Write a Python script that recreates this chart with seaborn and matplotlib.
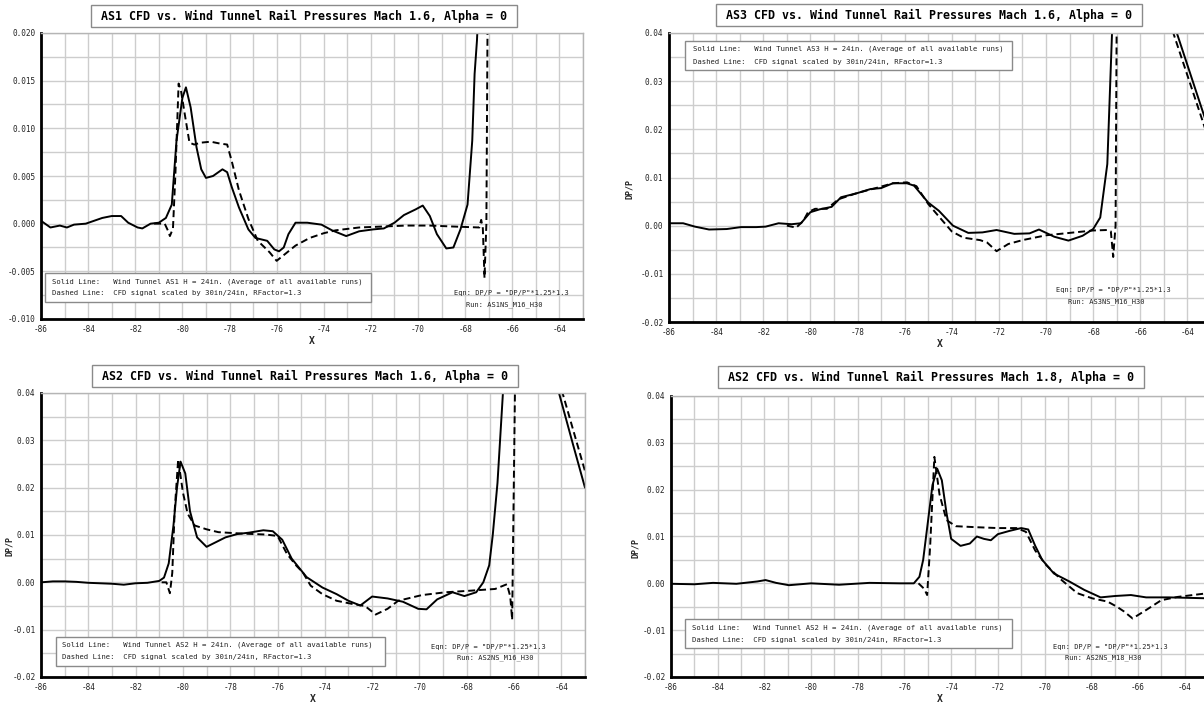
import matplotlib
matplotlib.use("Agg")
import matplotlib.pyplot as plt
from matplotlib.patches import Rectangle
from matplotlib.ticker import MultipleLocator, FormatStrFormatter
import seaborn as sns
import pandas as pd

sns.set_style("white")
plt.rcParams['font.family'] = ['DejaVu Sans Mono', 'DejaVu Sans']

W, H = 1204, 702

# ---------------- data ----------------
# Panel 1: AS1 Mach 1.6
as1_wt_x = [-86, -85.6, -85.2, -84.9, -84.6, -84.1, -83.75, -83.4, -83.0, -82.6, -82.3, -81.9, -81.7,
            -81.35, -81.0, -80.7, -80.45, -80.25, -80.0, -79.85, -79.65, -79.4, -79.2, -79.0, -78.7,
            -78.3, -78.1, -77.9, -77.6, -77.2, -76.9, -76.4, -76.1, -75.9, -75.7, -75.5, -75.2, -74.7,
            -74.1, -73.65, -73.05, -72.5, -71.9, -71.45, -71.0, -70.6, -70.1, -69.8, -69.5, -69.2,
            -68.8, -68.5, -68.2, -67.9, -67.7, -67.6, -67.5, -67.3, -66.0, -63.0]
as1_wt_y = [0.0003, -0.0004, -0.0002, -0.0004, -0.0001, 0.0, 0.0003, 0.0006, 0.0008, 0.0008, 0.0001,
            -0.0004, -0.0005, 0.0, 0.0001, 0.0006, 0.002, 0.0087, 0.0132, 0.0143, 0.0122, 0.008, 0.0057,
            0.0048, 0.005, 0.0057, 0.0054, 0.0038, 0.0017, -0.0006, -0.0015, -0.0018, -0.0027, -0.0029,
            -0.0025, -0.0011, 0.0001, 0.0001, -0.0001, -0.0007, -0.0013, -0.0008, -0.0006, -0.0005,
            0.0001, 0.0009, 0.0015, 0.0019, 0.0008, -0.0011, -0.0026, -0.0025, -0.0006, 0.002, 0.0087,
            0.0157, 0.0192, 0.03, 0.06, 0.05]
as1_cfd_x = [-81.2, -80.75, -80.6, -80.53, -80.4, -80.3, -80.16, -80.05, -79.9, -79.7, -79.5, -79.2,
             -78.8, -78.4, -78.1, -77.9, -77.6, -77.2, -76.8, -76.3, -76.0, -75.6, -75.2, -74.6, -74.0,
             -73.5, -72.5, -71.5, -70.5, -69.5, -68.5, -67.4, -67.32, -67.25, -67.18, -67.1, -67.03,
             -66.9, -63.0]
as1_cfd_y = [0.0, 0.0, -0.0008, -0.0013, -0.0005, 0.005, 0.0147, 0.0138, 0.0115, 0.0085, 0.0083, 0.0085,
             0.0086, 0.0084, 0.0083, 0.0065, 0.0035, 0.0005, -0.0018, -0.0030, -0.0039, -0.0031, -0.0023,
             -0.0015, -0.0010, -0.0007, -0.0004, -0.0003, -0.0002, -0.0002, -0.0003, -0.0004, 0.0004,
             -0.0005, -0.0057, 0.0, 0.03, 0.06, 0.06]

# Panel 2: AS3 Mach 1.6
as3_wt_x = [-86, -85.4, -84.9, -84.3, -83.55, -82.95, -82.3, -81.9, -81.35, -80.8, -80.4, -80.0, -79.6,
            -79.1, -78.7, -78.05, -77.45, -77.0, -76.5, -75.9, -75.6, -75.0, -74.55, -73.95, -73.3,
            -72.7, -72.1, -71.35, -70.7, -70.3, -69.65, -69.05, -68.45, -68.0, -67.7, -67.4, -67.2,
            -67.0, -66.0, -64.45, -63.0]
as3_wt_y = [0.0005, 0.0005, -0.0002, -0.0008, -0.0007, -0.0003, -0.0003, -0.0002, 0.0005, 0.0003, 0.0005,
            0.0028, 0.0034, 0.0039, 0.0059, 0.0067, 0.0076, 0.0078, 0.0088, 0.0088, 0.0083, 0.0048,
            0.0031, 0.0, -0.0015, -0.0014, -0.0009, -0.0017, -0.0016, -0.0008, -0.0023, -0.0031,
            -0.0021, -0.0007, 0.0017, 0.0128, 0.04, 0.06, 0.08, 0.04, 0.0185]
as3_cfd_x = [-81.0, -80.6, -80.3, -80.1, -79.8, -79.3, -78.8, -78.0, -77.3, -76.5, -75.9, -75.5, -75.0,
             -74.6, -74.0, -73.5, -72.8, -72.5, -72.1, -71.6, -71.0, -70.0, -69.0, -68.0, -67.4, -67.25,
             -67.15, -67.05, -67.0, -66.0, -64.6, -63.0]
as3_cfd_y = [0.0, -0.0004, 0.001, 0.0028, 0.0035, 0.0035, 0.0055, 0.0068, 0.0077, 0.0088, 0.009, 0.0082,
             0.0045, 0.0022, -0.0012, -0.0025, -0.003, -0.0035, -0.0053, -0.0038, -0.003, -0.002,
             -0.0015, -0.001, -0.0009, -0.0012, -0.0065, 0.0, 0.045, 0.07, 0.04, 0.0165]

# Panel 3: AS2 Mach 1.6
as2a_wt_x = [-86, -85.5, -85.0, -84.5, -84.0, -83.5, -83.0, -82.5, -82.0, -81.5, -81.0, -80.8, -80.6,
             -80.4, -80.25, -80.1, -79.9, -79.7, -79.4, -79.0, -78.6, -78.2, -77.7, -77.2, -76.6, -76.2,
             -75.8, -75.4, -74.77, -74.1, -73.5, -73.0, -72.5, -72.0, -71.35, -70.7, -70.05, -69.7,
             -69.25, -68.6, -68.1, -67.6, -67.3, -67.05, -66.9, -66.7, -66.47, -66.3, -65.0, -64.1,
             -63.5, -63.0]
as2a_wt_y = [0.0, 0.0002, 0.0002, 0.0001, -0.0001, -0.0002, -0.0003, -0.0005, -0.0002, -0.0001, 0.0003,
             0.001, 0.004, 0.012, 0.02, 0.0255, 0.023, 0.015, 0.0095, 0.0075, 0.0085, 0.0095, 0.0102,
             0.0105, 0.011, 0.0108, 0.009, 0.005, 0.0011, -0.0011, -0.0025, -0.0039, -0.0049, -0.003,
             -0.0034, -0.0041, -0.0056, -0.0057, -0.0036, -0.0021, -0.0029, -0.0021, 0.0, 0.0036, 0.01,
             0.021, 0.04, 0.06, 0.07, 0.04, 0.029, 0.02]
as2a_cfd_x = [-80.9, -80.7, -80.55, -80.45, -80.35, -80.2, -80.0, -79.8, -79.5, -79.0, -78.5, -77.5,
              -76.5, -76.0, -75.6, -75.2, -74.93, -74.6, -74.1, -73.5, -72.8, -72.3, -71.85, -71.35,
              -70.9, -69.9, -68.9, -67.95, -66.8, -66.3, -66.16, -66.08, -65.95, -65.0, -63.95, -63.0]
as2a_cfd_y = [0.0, 0.0, -0.0023, 0.002, 0.015, 0.026, 0.019, 0.0145, 0.012, 0.0112, 0.0106, 0.0103,
              0.0101, 0.0098, 0.006, 0.0035, 0.0021, -0.0007, -0.0025, -0.0039, -0.0046, -0.005,
              -0.0068, -0.0056, -0.0039, -0.0027, -0.0021, -0.0018, -0.0014, -0.0004, -0.003, -0.0079,
              0.045, 0.07, 0.04, 0.0235]

# Panel 4: AS2 Mach 1.8
as2b_wt_x = [-86, -85, -84.2, -83.2, -82.3, -81.95, -81.5, -80.95, -80, -78.8, -77.5, -76.2, -75.6,
             -75.36, -75.2, -75.0, -74.8, -74.6, -74.4, -74.2, -74.0, -73.6, -73.2, -72.9, -72.6,
             -72.3, -72.0, -71.5, -71.0, -70.7, -70.4, -70.1, -69.6, -68.94, -68.3, -67.6, -66.97,
             -66.3, -65.65, -64.67, -63.0]
as2b_wt_y = [-0.0001, -0.0002, 0.0001, -0.0001, 0.0004, 0.0007, 0.0001, -0.0004, 0.0, -0.0003, 0.0001,
             0.0, 0.0, 0.0014, 0.005, 0.013, 0.021, 0.0245, 0.022, 0.015, 0.0095, 0.008, 0.0085, 0.01,
             0.0095, 0.0092, 0.0105, 0.0112, 0.0118, 0.0115, 0.008, 0.005, 0.0021, 0.0004, -0.0014,
             -0.003, -0.0027, -0.0025, -0.003, -0.003, -0.0032]
as2b_cfd_x = [-75.4, -75.15, -75.03, -74.9, -74.72, -74.5, -74.2, -73.8, -73.0, -72.0, -71.2, -70.8,
              -70.4, -69.93, -69.27, -68.6, -67.96, -67.3, -66.9, -66.6, -66.23, -65.65, -65.0, -64.3,
              -63.0]
as2b_cfd_y = [0.0, -0.0012, -0.0025, 0.008, 0.027, 0.019, 0.0135, 0.0122, 0.012, 0.0118, 0.0118, 0.011,
              0.007, 0.0039, 0.0007, -0.0021, -0.0032, -0.0039, -0.005, -0.006, -0.0075, -0.0057,
              -0.0036, -0.0029, -0.0021]

titles = ["AS1 CFD vs. Wind Tunnel Rail Pressures Mach 1.6, Alpha = 0",
          "AS3 CFD vs. Wind Tunnel Rail Pressures Mach 1.6, Alpha = 0",
          "AS2 CFD vs. Wind Tunnel Rail Pressures Mach 1.6, Alpha = 0",
          "AS2 CFD vs. Wind Tunnel Rail Pressures Mach 1.8, Alpha = 0"]
sensors = ["AS1", "AS3", "AS2", "AS2"]
runs = ["AS1NS_M16_H30", "AS3NS_M16_H30", "AS2NS_M16_H30", "AS2NS_M18_H30"]
x_ticks = [-86, -84, -82, -80, -78, -76, -74, -72, -70, -68, -66, -64]
eqn_text = 'Eqn: DP/P = "DP/P"*1.25*1.3'

# ---------------- layout (pixels) ----------------
panels = [
    dict(wx=as1_wt_x, wy=as1_wt_y, cx=as1_cfd_x, cy=as1_cfd_y, box=(41, 583, 33, 319),
         ylim=(-0.010, 0.020), ystep=0.005, fmt='%.3f', ylab=None,
         title_c=(304, 16), leg=(0.007, 0.609, 0.059, 0.161), legtxt=(0.02, 0.129, 0.091),
         eqn=(0.867, 0.091), run=(0.854, 0.049)),
    dict(wx=as3_wt_x, wy=as3_wt_y, cx=as3_cfd_x, cy=as3_cfd_y, box=(669, 1211, 33, 322),
         ylim=(-0.02, 0.04), ystep=0.01, fmt='%.2f', ylab=-0.064,
         title_c=(929, 15), leg=(0.03, 0.633, 0.872, 0.972), legtxt=(0.044, 0.945, 0.90),
         eqn=(0.819, 0.111), run=(0.806, 0.069)),
    dict(wx=as2a_wt_x, wy=as2a_wt_y, cx=as2a_cfd_x, cy=as2a_cfd_y, box=(41, 585, 393, 677),
         ylim=(-0.02, 0.04), ystep=0.01, fmt='%.2f', ylab=-0.05,
         title_c=(305, 376), leg=(0.027, 0.632, 0.039, 0.141), legtxt=(0.039, 0.113, 0.07),
         eqn=(0.823, 0.106), run=(0.835, 0.067)),
    dict(wx=as2b_wt_x, wy=as2b_wt_y, cx=as2b_cfd_x, cy=as2b_cfd_y, box=(671, 1208, 396, 677),
         ylim=(-0.02, 0.04), ystep=0.01, fmt='%.2f', ylab=-0.058,
         title_c=(931, 377), leg=(0.026, 0.635, 0.103, 0.206), legtxt=(0.039, 0.174, 0.132),
         eqn=(0.819, 0.107), run=(0.805, 0.068)),
]

fig = plt.figure(figsize=(W / 100, H / 100), dpi=100)
fig.patch.set_facecolor('white')

for i, p in enumerate(panels):
    l, r, t, b = p['box']
    ax = fig.add_axes([l / W, 1 - b / H, (r - l) / W, (b - t) / H])
    wt = pd.DataFrame({'x': p['wx'], 'y': p['wy']})
    cfd = pd.DataFrame({'x': p['cx'], 'y': p['cy']})
    sns.lineplot(data=wt, x='x', y='y', ax=ax, color='black', lw=1.4,
                 estimator=None, sort=False, legend=False)
    sns.lineplot(data=cfd, x='x', y='y', ax=ax, color='black', lw=1.4,
                 estimator=None, sort=False, legend=False)
    ax.lines[-1].set_linestyle((0, (3.6, 2.0)))

    ax.set_xlim(-86, -63)
    ax.set_ylim(*p['ylim'])
    ax.set_xticks(x_ticks)
    ax.xaxis.set_major_formatter(FormatStrFormatter('%d'))
    ax.xaxis.set_minor_locator(MultipleLocator(1))
    ax.yaxis.set_major_locator(MultipleLocator(p['ystep']))
    ax.yaxis.set_minor_locator(MultipleLocator(p['ystep'] / 2))
    ax.yaxis.set_major_formatter(FormatStrFormatter(p['fmt']))
    ax.grid(which='both', color='#cdcdcd', lw=1.0)
    ax.set_axisbelow(True)
    ax.tick_params(which='both', length=0, labelsize=5.6, colors='#222222', pad=4)
    for s in ['left', 'bottom']:
        ax.spines[s].set_color('black')
        ax.spines[s].set_linewidth(2.0)
    for s in ['top', 'right']:
        ax.spines[s].set_color('#b5b5b5')
        ax.spines[s].set_linewidth(1.0)

    ax.set_xlabel('X', fontsize=7, fontweight='bold', labelpad=1.5)
    if p['ylab'] is not None:
        ax.set_ylabel('DP/P', fontsize=6, fontweight='bold')
        ax.yaxis.set_label_coords(p['ylab'], 0.46)
    else:
        ax.set_ylabel('')

    # legend-like box
    x0, x1, y0, y1 = p['leg']
    ax.add_patch(Rectangle((x0, y0), x1 - x0, y1 - y0, transform=ax.transAxes,
                           facecolor='white', edgecolor='#8a8a8a', lw=1.0, zorder=5))
    tx, ty1, ty2 = p['legtxt']
    ax.text(tx, ty1, "Solid Line:   Wind Tunnel %s H = 24in. (Average of all available runs)" % sensors[i],
            transform=ax.transAxes, fontsize=5.2, va='center', ha='left', zorder=6, color='#222222')
    ax.text(tx, ty2, "Dashed Line:  CFD signal scaled by 30in/24in, RFactor=1.3",
            transform=ax.transAxes, fontsize=5.2, va='center', ha='left', zorder=6, color='#222222')
    ax.text(p['eqn'][0], p['eqn'][1], eqn_text, transform=ax.transAxes, fontsize=5.0,
            ha='center', va='center', color='#222222')
    ax.text(p['run'][0], p['run'][1], "Run: " + runs[i], transform=ax.transAxes, fontsize=5.0,
            ha='center', va='center', color='#222222')

    # title box
    cx, cy = p['title_c']
    bw, bh = 426, 22
    fig.patches.append(Rectangle(((cx - bw / 2) / W, 1 - (cy + bh / 2) / H), bw / W, bh / H,
                                 transform=fig.transFigure, facecolor='white',
                                 edgecolor='#8a8a8a', lw=1.0))
    fig.text(cx / W, 1 - cy / H, titles[i], fontsize=8.4, fontweight='bold',
             ha='center', va='center', color='black')

fig.savefig('out.png', dpi=100)
